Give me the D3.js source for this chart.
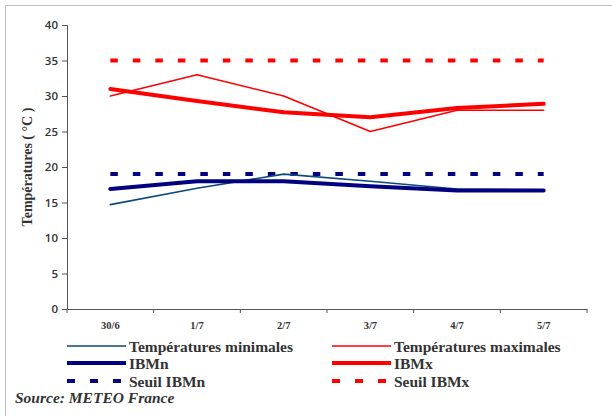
<!DOCTYPE html>
<html><head><meta charset="utf-8">
<script src="https://cdn.jsdelivr.net/npm/d3@7"></script>
<style>body{margin:0;background:#fff}svg{display:block}</style>
</head><body>
<svg id="c" width="612" height="416"></svg>
<script>
const categories = ["30/6","1/7","2/7","3/7","4/7","5/7"];
const tempMin = [14.7, 17, 19, 18, 16.9, 16.8];
const tempMax = [30, 33, 30, 25, 28, 28];
const ibmn = [16.9, 18, 18, 17.3, 16.7, 16.7];
const ibmx = [31, 29.3, 27.7, 27, 28.3, 28.9];
const seuilIBMn = [19, 19, 19, 19, 19, 19];
const seuilIBMx = [35, 35, 35, 35, 35, 35];
const yTicks = [0,5,10,15,20,25,30,35,40];

const series = [
  {name:"Températures minimales", values:tempMin, color:"#0d4a7a", width:1.6, dash:null},
  {name:"Températures maximales", values:tempMax, color:"#ff0000", width:1.6, dash:null},
  {name:"IBMn", values:ibmn, color:"#000080", width:4, dash:null},
  {name:"IBMx", values:ibmx, color:"#ff0000", width:4, dash:null},
  {name:"Seuil IBMn", values:seuilIBMn, color:"#000080", width:4, dash:"7.5,15"},
  {name:"Seuil IBMx", values:seuilIBMx, color:"#ff0000", width:4, dash:"7.5,15"}
];

const svg = d3.select("#c");
svg.append("rect").attr("x",5.5).attr("y",5.5).attr("width",620).attr("height",420)
  .attr("fill","#fff").attr("stroke","#c0c0c0").attr("stroke-width",1);

const x = d3.scaleBand().domain(categories).range([67,587]);
const y = d3.scaleLinear().domain([0,40]).range([309,25]);

const yAxis = svg.append("g").attr("transform","translate(67,0)")
  .call(d3.axisLeft(y).tickValues(yTicks).tickSize(5).tickPadding(4));
yAxis.selectAll("text").attr("font-family","'Open Sans','Liberation Sans',Arial,sans-serif")
  .attr("font-weight",600).attr("font-size",11.5).attr("fill","#333");
yAxis.selectAll("line,path").attr("stroke","#555");

const xAxis = svg.append("g").attr("transform","translate(0,309)")
  .call(d3.axisBottom(x).tickSize(0).tickPadding(13));
xAxis.select("path").attr("stroke","#555");
xAxis.selectAll("text").attr("font-family","'Liberation Serif','Times New Roman',serif")
  .attr("font-weight","bold").attr("font-size",10.5).attr("fill","#333");
const bounds = categories.map(c=>x(c)).concat([x.range()[1]]);
xAxis.selectAll(".bt").data(bounds).enter().append("line")
  .attr("x1",d=>d).attr("x2",d=>d).attr("y1",0).attr("y2",4).attr("stroke","#555");

svg.append("text").attr("transform","translate(32,167) rotate(-90)")
  .attr("text-anchor","middle").attr("font-family","'Liberation Serif','Times New Roman',serif")
  .attr("font-weight","bold").attr("font-size",14).attr("fill","#333")
  .text("Températures ( °C )");

const line = d3.line().x((d,i)=>x(categories[i])+x.bandwidth()/2).y(d=>y(d));
const order = [4,5,1,0,2,3];
order.forEach(k=>{
  const s = series[k];
  svg.append("path").attr("d",line(s.values)).attr("fill","none")
    .attr("stroke",s.color).attr("stroke-width",s.width)
    .attr("stroke-linejoin","round").attr("stroke-linecap", s.dash?"butt":"round")
    .attr("stroke-dasharray",s.dash);
});

const legPos = [[67,346],[332,346],[67,363],[332,363],[67,381],[332,381]];
series.forEach((s,i)=>{
  const [lx,ly] = legPos[i];
  svg.append("line").attr("x1",lx).attr("x2",lx+59).attr("y1",ly).attr("y2",ly)
    .attr("stroke",s.color).attr("stroke-width",s.width===4?4:1.6)
    .attr("stroke-dasharray",s.dash?"8,15":null);
  svg.append("text").attr("x",lx+62).attr("y",ly+5.5)
    .attr("font-family","'Liberation Serif','Times New Roman',serif")
    .attr("font-weight","bold").attr("font-size",15.5).attr("fill","#333").text(s.name);
});
svg.append("text").attr("x",15).attr("y",403)
  .attr("font-family","'Liberation Serif','Times New Roman',serif")
  .attr("font-weight","bold").attr("font-style","italic").attr("font-size",15.5).attr("fill","#333")
  .text("Source: METEO France");
</script>
</body></html>
